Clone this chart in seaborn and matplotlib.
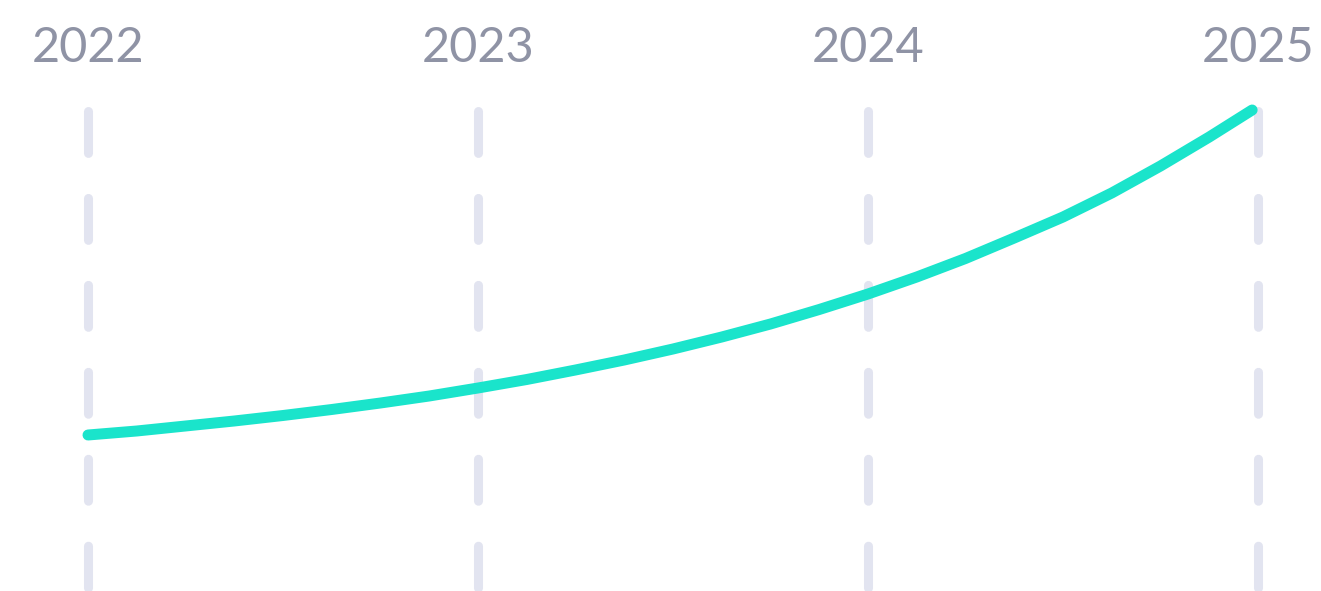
import pandas as pd
import matplotlib.pyplot as plt
import seaborn as sns

# dados (eixo y em unidades arbitrárias)
anos = [2022, 2023, 2024, 2025]
rotulos = ['2022', '2023', '2024', '2025']

curva_x = [2022.0, 2022.125, 2022.25, 2022.375, 2022.5, 2022.625, 2022.75, 2022.875,
           2023.0, 2023.125, 2023.25, 2023.375, 2023.5, 2023.625, 2023.75, 2023.875,
           2024.0, 2024.125, 2024.25, 2024.375, 2024.5, 2024.625, 2024.75, 2024.875,
           2024.985]
curva_y = [156, 160, 165, 170, 175.5, 181.5, 188, 195,
           203, 211.5, 221, 231, 242, 254, 267, 281.5,
           297, 314, 332.5, 353, 374, 398, 425, 454,
           481]

df = pd.DataFrame({'ano': curva_x, 'valor': curva_y})

sns.set_style('white')
plt.rcParams['font.family'] = ['Lato', 'DejaVu Sans']
plt.rcParams['lines.scale_dashes'] = False

fig = plt.figure(figsize=(13.21, 5.91), dpi=100)
ax = fig.add_axes([0, 0, 1, 1])

# linhas verticais tracejadas
for ano in anos:
    ax.plot([ano, ano], [480.5, -20], color='#E2E4F0', lw=6.5,
            linestyle=(0, (30.2, 32.4)), dash_capstyle='round', zorder=1)

# curva
sns.lineplot(data=df, x='ano', y='valor', ax=ax, color='#1AE4CB', lw=7.9,
             solid_capstyle='round', solid_joinstyle='round', zorder=3)

# rótulos dos anos
for ano, rot in zip(anos, rotulos):
    ax.text(ano, 529, rot, ha='center', va='baseline', fontsize=35,
            color='#8F93A5')

ax.set_xlim(2022 - 88 / 390, 2022 + 1233 / 390)
ax.set_ylim(0, 591)
ax.axis('off')

fig.savefig('out.png', dpi=100)
